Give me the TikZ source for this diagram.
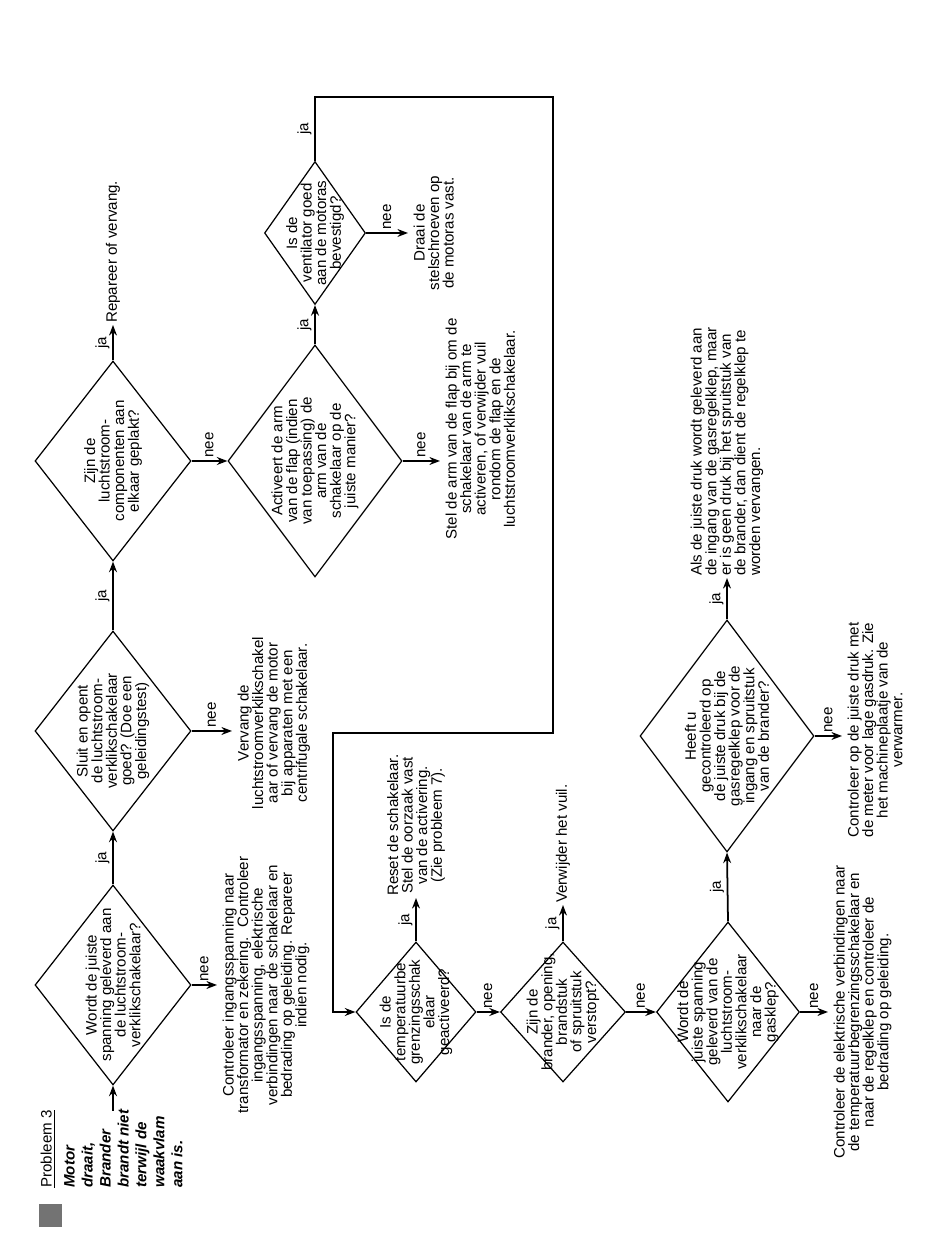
\documentclass[tikz,border=0pt]{standalone}
\usepackage{fontspec}
\setmainfont{Liberation Sans}
\usetikzlibrary{arrows.meta,shapes.geometric}

\begin{document}
\begin{tikzpicture}[x=0.02cm,y=0.02cm,font=\fontsize{8.6}{8.3}\selectfont,
  vraag/.style={draw,diamond,line width=0.7pt,inner sep=0pt,minimum width=4cm,minimum height=3.12cm},
  vtekst/.style={align=center,inner sep=0pt},
  uitleg/.style={align=center,inner sep=3pt,anchor=north},
  gevolg/.style={align=center,inner sep=1pt,anchor=west},
  pijl/.style={-{Stealth[length=6pt,width=4.5pt]},line width=1pt},
  jalabel/.style={midway,above,inner sep=1.5pt},
  neelabel/.style={midway,right,inner sep=1.5pt}]
\useasboundingbox (0,0) rectangle (950,1241);
\begin{scope}[rotate=90,transform shape]
% titel en klacht
\fill[black!55] (14,-39) rectangle (37,-62);
\node[anchor=west,inner sep=0pt] (titel) at (53,-48) {\underline{Probleem 3}};
\node[anchor=north west,align=left,inner sep=0pt,font=\fontsize{8.6}{10.2}\selectfont\bfseries\itshape] (klacht) at (53,-64)
  {Motor\\draait,\\Brander\\brandt niet\\terwijl de\\waakvlam\\aan is.};
\coordinate (start) at (130,-113);

% bovenste rij
\node[vraag] (d1) at (256,-113) {};
\node[vtekst] (d1t) at (d1) {Wordt de juiste\\spanning geleverd aan\\de luchtstroom-\\verklikschakelaar?};
\node[vraag] (d2) at (510,-113) {};
\node[vtekst] (d2t) at (d2) {Sluit en opent\\de luchtstroom-\\verklikschakelaar\\goed? (Doe een\\geleidingstest)};
\node[vraag] (d3) at (780,-113) {};
\node[vtekst] (d3t) at (d3) {Zijn de\\luchtstroom-\\componenten aan\\elkaar geplakt?};
\node[gevolg] (t3) at (916,-113) {Repareer of vervang.};
\node[uitleg] (t1) at (256,-217) {Controleer ingangsspanning naar\\transformator en zekering.~ Controleer\\ingangsspanning, elektrische\\verbindingen naar de schakelaar en\\bedrading op geleiding. Repareer\\indien nodig.};
\node[uitleg] (t2) at (518,-232) {Vervang de\\luchtstroomverklikschakel\\aar of vervang de motor\\bij apparaten met een\\centrifugale schakelaar.};

% tweede rij
\node[vraag,minimum width=4.64cm,minimum height=3.48cm] (d4) at (780,-315) {};
\node[vtekst] (d4t) at (d4) {Activeert de arm\\van de flap (indien\\van toepassing) de\\arm van de\\schakelaar op de\\juiste manier?};
\node[vraag,minimum width=2.86cm,minimum height=2.02cm] (d5) at (1008,-315) {};
\node[vtekst] (d5t) at (d5) {Is de\\ventilator goed\\aan de motoras\\bevestigd?};
\node[uitleg] (t4) at (812,-440) {Stel de arm van de flap bij om de\\schakelaar van de arm te\\activeren, of verwijder vuil\\rondom de flap en de\\luchtstroomverklikschakelaar.};
\node[uitleg] (t5) at (1008,-408) {Draai de\\stelschroeven op\\de motoras vast.};
\coordinate (h1) at (1144,-553);
\coordinate (h2) at (508,-333);

% onderste deel
\node[vraag,minimum width=2.8cm,minimum height=2.4cm] (d6) at (229,-416) {};
\node[vtekst] (d6t) at (d6) {Is de\\temperatuurbe\\grenzingsschak\\elaar\\geactiveerd?};
\node[vraag,minimum width=2.8cm,minimum height=2.5cm] (d7) at (229,-563) {};
\node[vtekst] (d7t) at (d7) {Zijn de\\brander, opening,\\brandstuk\\of spruitstuk\\verstopt?};
\node[vraag,minimum width=3.6cm,minimum height=2.86cm] (d8) at (229,-728) {};
\node[vtekst] (d8t) at (d8) {Wordt de\\juiste spanning\\geleverd van de\\luchtstroom-\\verklikschakelaar\\naar de\\gasklep?};
\node[vraag,minimum width=4.64cm,minimum height=3.48cm] (d9) at (505,-727) {};
\node[vtekst] (d9t) at (d9) {Heeft u\\gecontroleerd op\\de juiste druk bij de\\gasregelklep voor de\\ingang en spruitstuk\\van de brander?};
\node[gevolg] (t6) at (343,-416) {Reset de schakelaar.\\Stel de oorzaak vast\\van de activering.\\(Zie probleem 7).};
\node[gevolg] (t7) at (336,-563) {Verwijder het vuil.};
\node[gevolg,align=left] (t9) at (663,-727) {Als de juiste druk wordt geleverd aan\\de ingang van de gasregelklep, maar\\er is geen druk bij het spruitstuk van\\de brander, dan dient de regelklep te\\worden vervangen.};
\node[uitleg] (t8) at (229,-828) {Controleer de elektrische verbindingen naar\\de temperatuurbegrenzingsschakelaar en\\naar de regelklep en controleer de\\bedrading op geleiding.};
\node[uitleg] (t10) at (511,-842) {Controleer op de juiste druk met\\de meter voor lage gasdruk. Zie\\het machineplaatje van de\\verwarmer.};

% verbindingen
\draw[pijl] (start) -- (d1.west);
\draw[pijl] (d1.east) -- (d2.west) node[jalabel]{ja};
\draw[pijl] (d2.east) -- (d3.west) node[jalabel]{ja};
\draw[pijl] (d3.east) -- (t3.west) node[jalabel]{ja};
\draw[pijl] (d1.south) -- (d1.south |- t1.north) node[neelabel]{nee};
\draw[pijl] (d2.south) -- (d2.south |- t2.north) node[neelabel]{nee};
\draw[pijl] (d3.south) -- (d4.north) node[neelabel]{nee};
\draw[pijl] (d4.east) -- (d5.west) node[jalabel]{ja};
\draw[pijl] (d4.south) -- (d4.south |- t4.north) node[neelabel]{nee};
\draw[pijl] (d5.south) -- (d5.south |- t5.north) node[neelabel]{nee};
\draw[pijl] (d5.east) -- (d5.east -| h1) node[jalabel]{ja} -- (h1) -- (h1 -| h2) -- (h2) -- (h2 -| d6.north) -- (d6.north);
\draw[pijl] (d6.east) -- (t6.west) node[jalabel]{ja};
\draw[pijl] (d6.south) -- (d7.north) node[neelabel]{nee};
\draw[pijl] (d7.east) -- (t7.west) node[jalabel]{ja};
\draw[pijl] (d7.south) -- (d8.north) node[neelabel]{nee};
\draw[pijl] (d8.east) -- (d9.west) node[jalabel]{ja};
\draw[pijl] (d8.south) -- (d8.south |- t8.north) node[neelabel]{nee};
\draw[pijl] (d9.east) -- (t9.west) node[jalabel]{ja};
\draw[pijl] (d9.south) -- (d9.south |- t10.north) node[neelabel]{nee};
\end{scope}
\end{tikzpicture}
\end{document}
